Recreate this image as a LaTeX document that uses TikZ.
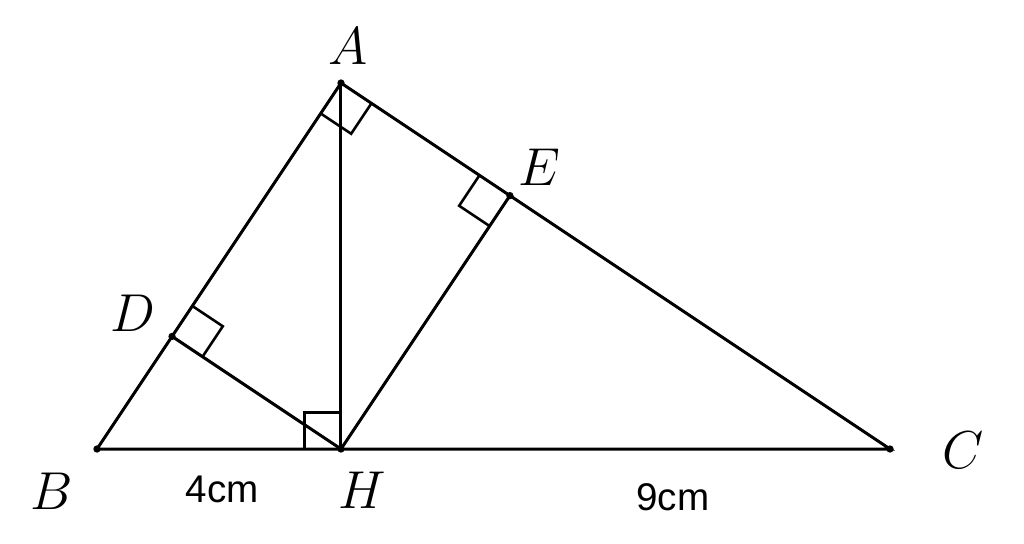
\documentclass[tikz,border=0pt]{standalone}
\usepackage{fontspec}
\newfontfamily\cmfont{Liberation Sans}
\usetikzlibrary{calc,angles}

\begin{document}
\begin{tikzpicture}[line width=1.4pt,
  lbl/.style={font=\fontsize{23}{27}\selectfont},
  len/.style={font=\cmfont\fontsize{18}{21}\selectfont},
  rmark/.style={draw, line width=1.2pt, angle radius=0.6cm}]
\useasboundingbox (-5.59,-1.541) rectangle (11.197,7.361);


\coordinate (H) at (0,0);
\coordinate (B) at (-4,0);
\coordinate (C) at (9,0);
\coordinate (A) at (0,6);
\coordinate (D) at ($(B)!(H)!(A)$);
\coordinate (E) at ($(A)!(H)!(C)$);
\draw (B) -- (C) -- (A) -- cycle;
\draw (A) -- (H);
\draw (D) -- (H) -- (E);

\pic[rmark] {right angle=B--A--C};
\pic[rmark] {right angle=B--H--A};
\pic[rmark] {right angle=A--D--H};
\pic[rmark] {right angle=H--E--A};
\foreach \p in {A,B,C,D,E,H} \fill (\p) circle (0.06);

\node[lbl] (lA) at (0.12,6.6) {$A$};
\node[lbl] (lE) at (3.26,4.62) {$E$};
\node[lbl] (lD) at (-3.41,2.23) {$D$};
\node[lbl] (lB) at (-4.74,-0.70) {$B$};
\node[lbl] (lH) at (0.34,-0.67) {$H$};
\node[lbl] (lC) at (10.2,-0.02) {$C$};
\node[len] (lBH) at (-1.95,-0.66) {4cm};
\node[len] (lHC) at (5.44,-0.79) {9cm};
\end{tikzpicture}
\end{document}
